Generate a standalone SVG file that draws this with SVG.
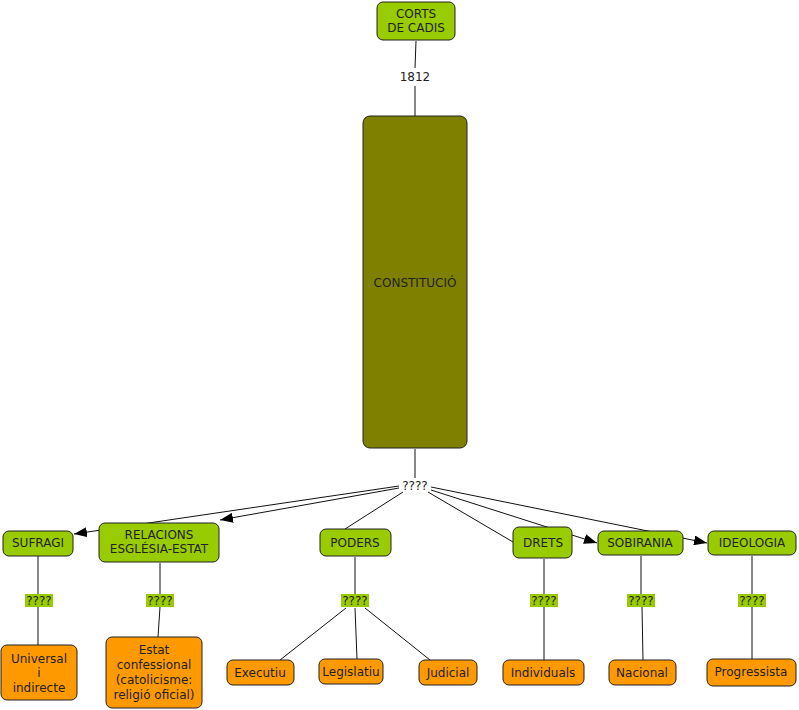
<svg xmlns="http://www.w3.org/2000/svg" width="799" height="710" viewBox="0 0 799 710">
<style>
text{font-family:"DejaVu Sans",Verdana,sans-serif;font-size:12px;fill:#222;text-anchor:middle}
.g{fill:#99cc00;stroke:#222;stroke-width:1}
.o{fill:#ff9900;stroke:#222;stroke-width:1}
.ol{fill:#808000;stroke:#222;stroke-width:1}
.c line{stroke:#111;stroke-width:1}
.lb{fill:#99cc00}
</style>
<defs>
<marker id="ah" markerUnits="userSpaceOnUse" markerWidth="14" markerHeight="10" refX="13" refY="5" orient="auto">
<path d="M0,0 L13,5 L0,10 Z" fill="#000"/>
</marker>
</defs>
<g class="c" id="connectors">
<line x1="416" y1="41" x2="415" y2="68"/>
<line x1="415" y1="86" x2="415" y2="116"/>
<line x1="415" y1="449" x2="415" y2="478"/>
<line x1="399" y1="486" x2="74" y2="534" marker-end="url(#ah)"/>
<line x1="399" y1="488" x2="220" y2="520" marker-end="url(#ah)"/>
<line x1="403" y1="492" x2="345" y2="529"/>
<line x1="428" y1="492" x2="513" y2="542"/>
<line x1="431" y1="490" x2="597" y2="543" marker-end="url(#ah)"/>
<line x1="431" y1="487" x2="707" y2="543" marker-end="url(#ah)"/>
<line x1="38" y1="556" x2="38" y2="594"/>
<line x1="38" y1="607" x2="38" y2="645"/>
<line x1="160" y1="563" x2="160" y2="594"/>
<line x1="160" y1="607" x2="158" y2="637"/>
<line x1="355" y1="557" x2="355" y2="594"/>
<line x1="346" y1="608" x2="280" y2="660"/>
<line x1="355" y1="608" x2="357" y2="659"/>
<line x1="365" y1="608" x2="430" y2="660"/>
<line x1="544" y1="559" x2="544" y2="594"/>
<line x1="544" y1="607" x2="544" y2="660"/>
<line x1="641" y1="556" x2="641" y2="594"/>
<line x1="642" y1="607" x2="643" y2="660"/>
<line x1="752" y1="556" x2="752" y2="594"/>
<line x1="752" y1="607" x2="752" y2="659"/>
</g>
<g id="label-1812"><text x="415" y="81">1812</text></g>
<g id="label-top"><text x="415" y="490">????</text></g>
<g id="n-corts"><rect class="g" x="377" y="2" width="78" height="38" rx="6"/><text x="416" y="18">CORTS</text><text x="416" y="32">DE CADIS</text></g>
<g id="n-const"><rect class="ol" x="363" y="116" width="104" height="332" rx="7"/><text x="415" y="287">CONSTITUCIÓ</text></g>
<g id="n-sufragi"><rect class="g" x="3" y="531" width="70" height="25" rx="6"/><text x="38" y="547">SUFRAGI</text></g>
<g id="n-relacions"><rect class="g" x="99" y="523" width="120" height="39" rx="6"/><text x="159" y="539">RELACIONS</text><text x="159" y="553">ESGLÉSIA-ESTAT</text></g>
<g id="n-poders"><rect class="g" x="320" y="529" width="71" height="27" rx="6"/><text x="355" y="547">PODERS</text></g>
<g id="n-drets"><rect class="g" x="513" y="527" width="59" height="31" rx="6"/><text x="543" y="547">DRETS</text></g>
<g id="n-sobirania"><rect class="g" x="598" y="531" width="85" height="24" rx="6"/><text x="640" y="547">SOBIRANIA</text></g>
<g id="n-ideologia"><rect class="g" x="708" y="531" width="88" height="24" rx="6"/><text x="752" y="547">IDEOLOGIA</text></g>
<g id="l-sufragi"><rect class="lb" x="25" y="594" width="28" height="13"/><text x="39" y="605">????</text></g>
<g id="l-relacions"><rect class="lb" x="146" y="594" width="28" height="13"/><text x="160" y="605">????</text></g>
<g id="l-poders"><rect class="lb" x="341" y="594" width="28" height="13"/><text x="355" y="605">????</text></g>
<g id="l-drets"><rect class="lb" x="530" y="594" width="28" height="13"/><text x="544" y="605">????</text></g>
<g id="l-sobirania"><rect class="lb" x="627" y="594" width="28" height="13"/><text x="641" y="605">????</text></g>
<g id="l-ideologia"><rect class="lb" x="738" y="594" width="28" height="13"/><text x="752" y="605">????</text></g>
<g id="n-universal"><rect class="o" x="1" y="645" width="76" height="55" rx="6"/><text x="39" y="663">Universal</text><text x="39" y="677">i</text><text x="39" y="692">indirecte</text></g>
<g id="n-estat"><rect class="o" x="106" y="637" width="96" height="71" rx="6"/><text x="154" y="654">Estat</text><text x="154" y="669">confessional</text><text x="154" y="684">(catolicisme:</text><text x="154" y="699">religió oficial)</text></g>
<g id="n-executiu"><rect class="o" x="227" y="660" width="67" height="25" rx="6"/><text x="260" y="677">Executiu</text></g>
<g id="n-legislatiu"><rect class="o" x="319" y="659" width="64" height="25" rx="6"/><text x="351" y="676">Legislatiu</text></g>
<g id="n-judicial"><rect class="o" x="419" y="660" width="58" height="25" rx="6"/><text x="448" y="677">Judicial</text></g>
<g id="n-individuals"><rect class="o" x="503" y="660" width="81" height="25" rx="6"/><text x="543" y="677">Individuals</text></g>
<g id="n-nacional"><rect class="o" x="609" y="660" width="67" height="25" rx="6"/><text x="642" y="677">Nacional</text></g>
<g id="n-progressista"><rect class="o" x="707" y="659" width="89" height="27" rx="6"/><text x="751" y="676">Progressista</text></g>
</svg>
